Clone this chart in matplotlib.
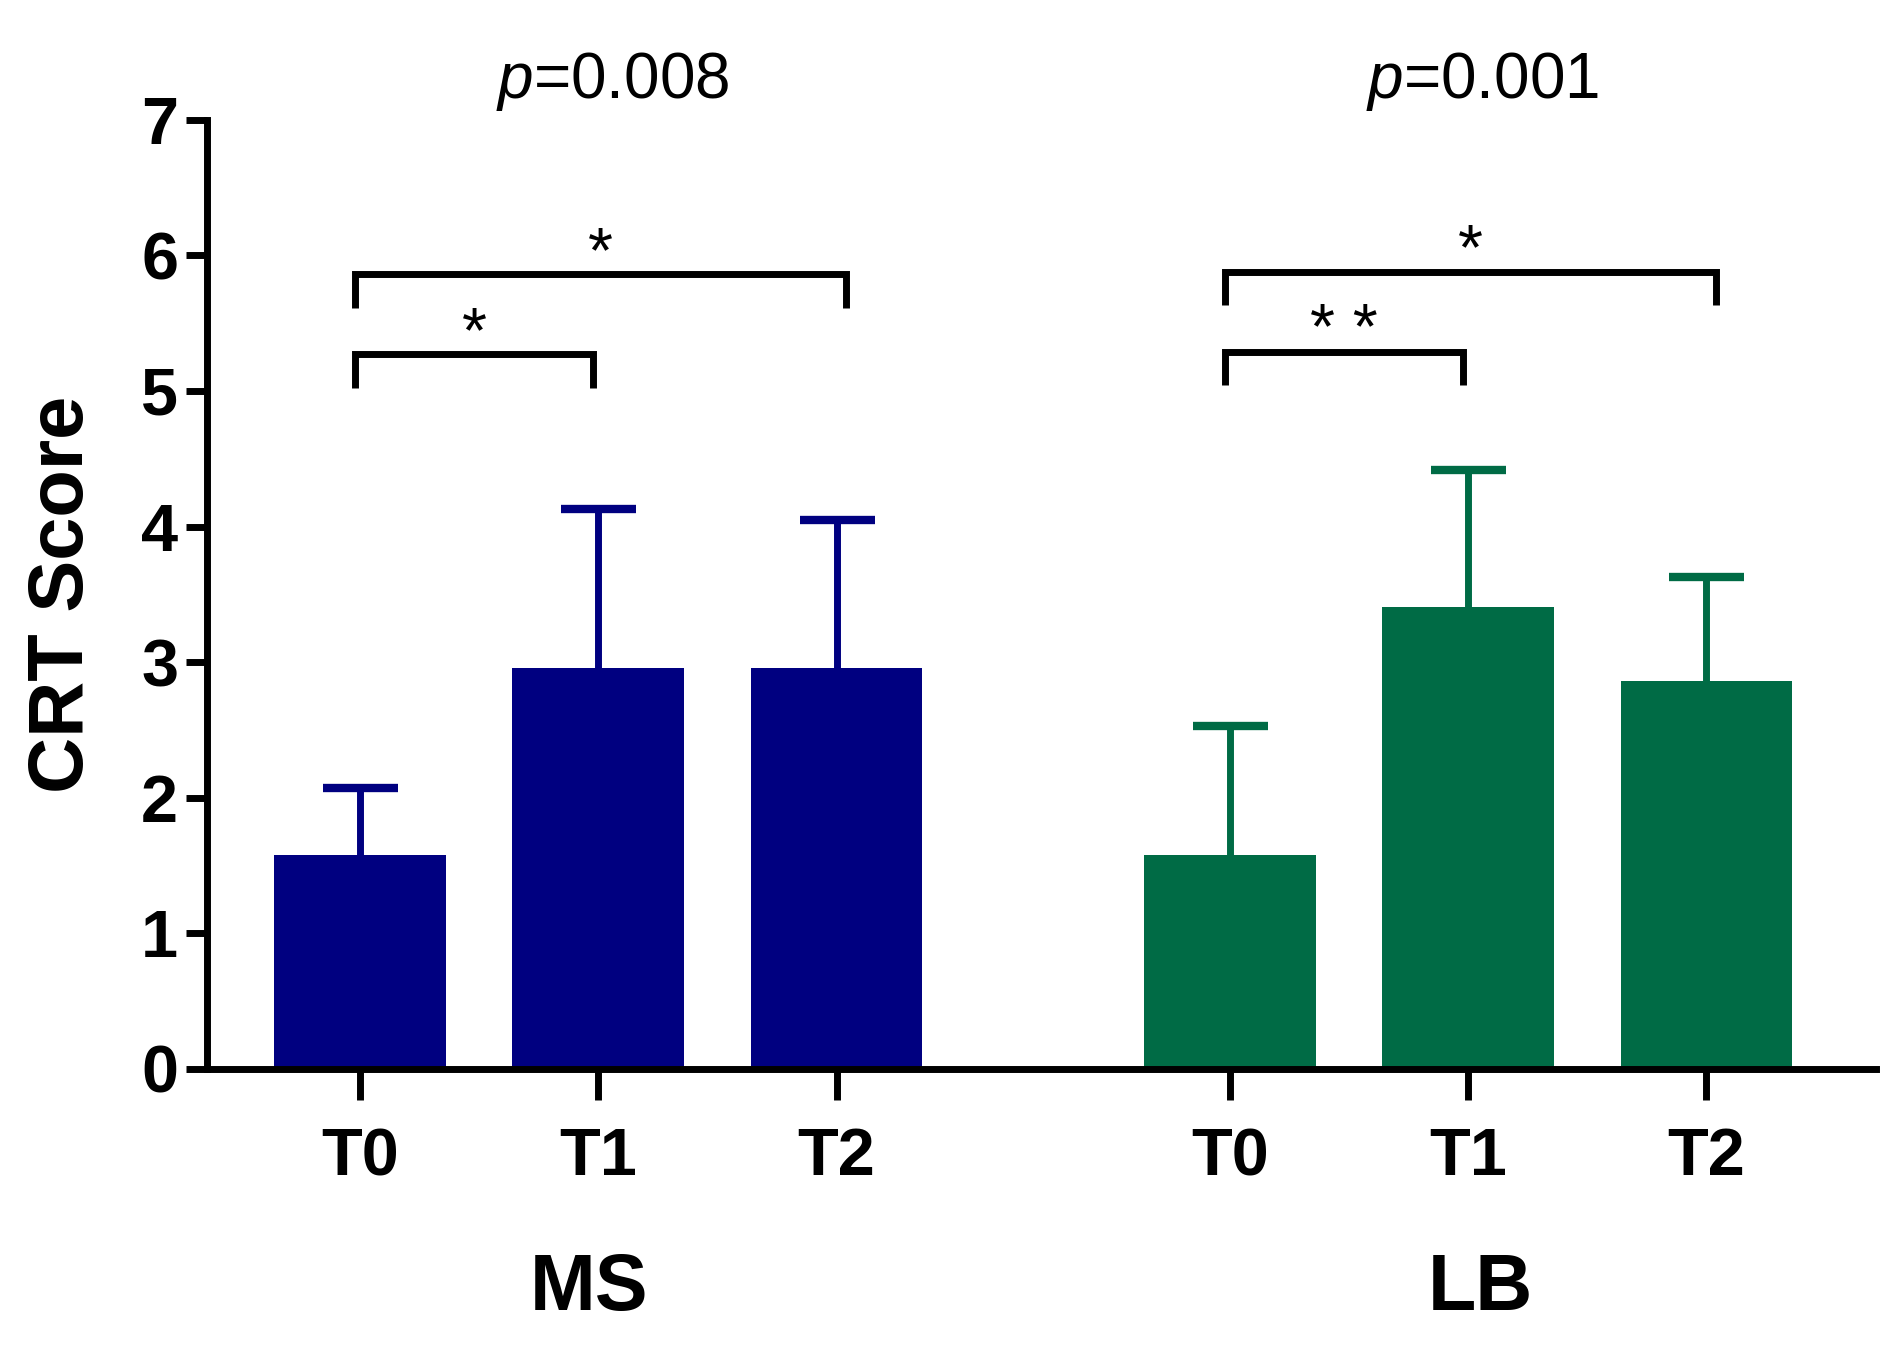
import matplotlib.pyplot as plt
import numpy as np

plt.rcParams['font.family'] = ['Liberation Sans', 'DejaVu Sans']
plt.rcParams['mathtext.fontset'] = 'custom'
plt.rcParams['mathtext.it'] = 'Liberation Sans:italic'
plt.rcParams['mathtext.rm'] = 'Liberation Sans'

# data
groups = ["MS", "LB"]
timepoints = ["T0", "T1", "T2"]
ms_means = [1.58, 2.96, 2.96]
ms_upper = [2.07, 4.13, 4.05]
lb_means = [1.58, 3.41, 2.86]
lb_upper = [2.53, 4.42, 3.63]
p_values = ["0.008", "0.001"]

# significance brackets: (group, i, j, height, label)
brackets = [
    (0, 0, 1, 5.27, "*"),
    (0, 0, 2, 5.86, "*"),
    (1, 0, 1, 5.29, "* *"),
    (1, 0, 2, 5.88, "*"),
]

colors = ["#000080", "#006B45"]
group_offset = [0.0, 3.65]

fig = plt.figure(figsize=(18.85, 13.53), dpi=100)
ax = fig.add_axes([0.110, 0.210, 0.885, 0.7015])

all_means = [ms_means, lb_means]
all_upper = [ms_upper, lb_upper]
tick_pos = []
for g, (means, upper) in enumerate(zip(all_means, all_upper)):
    x = np.arange(len(means)) + group_offset[g]
    tick_pos.extend(x)
    ax.bar(x, means, width=0.72, color=colors[g], zorder=2)
    err = np.array(upper) - np.array(means)
    _, caps, _ = ax.errorbar(x, means, yerr=[np.zeros_like(err), err],
                             fmt="none", ecolor=colors[g], elinewidth=5,
                             capsize=27, capthick=6, zorder=3)
    caps[0].set_visible(False)  # only the upper cap, as in the figure

for g, i, j, h, label in brackets:
    x0 = group_offset[g] + i - 0.02
    x1 = group_offset[g] + j + (0.04 if j == 2 else -0.02)
    ax.plot([x0, x0, x1, x1], [h - 0.25, h, h, h - 0.25], color="black",
            lw=5, solid_joinstyle="miter", solid_capstyle="butt", zorder=4,
            clip_on=False)
    ax.text((x0 + x1) / 2, h - 0.08, label, ha="center", va="bottom",
            fontsize=46)

for g, p in enumerate(p_values):
    ax.text(group_offset[g] + 1.06, 7.28, r"$\it{p}$=" + p, ha="center",
            va="center", fontsize=46, clip_on=False)

group_label_x = [0.96, 4.70]
for g, name in enumerate(groups):
    ax.text(group_label_x[g], -0.232, name, ha="center", va="center",
            fontsize=57, fontweight="bold",
            transform=ax.get_xaxis_transform())

ax.set_xlim(-0.64, 6.36)
ax.set_ylim(0, 7)
ax.set_yticks(range(8))
ax.set_xticks(tick_pos)
ax.set_xticklabels(timepoints * 2)

for spine in ["top", "right"]:
    ax.spines[spine].set_visible(False)
for spine in ["left", "bottom"]:
    ax.spines[spine].set_linewidth(5)

ax.tick_params(axis="y", length=15, width=5, pad=6, labelsize=48)
ax.tick_params(axis="x", length=22, width=5, pad=20, labelsize=48)
for lbl in ax.get_xticklabels() + ax.get_yticklabels():
    lbl.set_fontweight("bold")

ax.set_ylabel("CRT Score", fontsize=56, fontweight="bold", va="center")
ax.yaxis.set_label_coords(-0.087, 0.5)

fig.savefig("out.png", dpi=100)
